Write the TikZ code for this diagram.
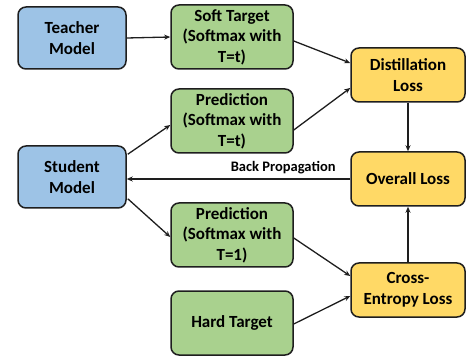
\documentclass[tikz,border=0pt]{standalone}
\usepackage{fontspec}
\setmainfont{Carlito}
\usetikzlibrary{arrows.meta}
\definecolor{modelblue}{HTML}{9DC3E6}
\definecolor{softgreen}{HTML}{A9D18E}
\definecolor{lossyellow}{HTML}{FFD966}
\definecolor{edge}{HTML}{1E1E1E}
\tikzset{
  box/.style={draw=edge, line width=1.5pt, rounded corners=8pt, align=center,
    font=\fontsize{17}{20.5}\selectfont\bfseries, inner sep=0pt},
  modelbox/.style={box, fill=modelblue, minimum width=108pt, minimum height=62pt},
  predbox/.style={box, fill=softgreen, minimum width=122pt, minimum height=64pt},
  lossbox/.style={box, fill=lossyellow, minimum width=114pt, minimum height=54pt},
  link/.style={draw=edge, line width=1.3pt, -{Stealth[length=6pt,width=5pt]}}
}
\begin{document}
\begin{tikzpicture}[x=1pt, y=-1pt]
  \useasboundingbox (0,0) rectangle (466,358);
  % models
  \node[modelbox] (teacher) at (72,38) {Teacher\\Model};
  \node[modelbox] (student) at (72,177) {Student\\Model};
  % softmax outputs and targets
  \node[predbox] (soft) at (232,37) {Soft Target\\(Softmax with\\T=t)};
  \node[predbox] (predt) at (232,121) {Prediction\\(Softmax with\\T=t)};
  \node[predbox] (pred1) at (232,235) {Prediction\\(Softmax with\\T=1)};
  \node[predbox] (hard) at (232,323) {Hard Target};
  % losses
  \node[lossbox] (distil) at (408,75) {Distillation\\Loss};
  \node[lossbox] (overall) at (408,179) {Overall Loss};
  \node[lossbox] (cross) at (408,290) {Cross-\\Entropy Loss};
  % connectors
  \draw[link] (teacher.east) -- (soft.west);
  \draw[link] (soft.east |- 0,41) -- (distil.west |- 0,63);
  \draw[link] (predt.east |- 0,130) -- (distil.west |- 0,88);
  \draw[link] (distil.south) -- (overall.north);
  \draw[link] (overall.west) -- (student.east |- overall.west)
    node[pos=0.3, above=1pt, font=\fontsize{14.5}{17}\selectfont\bfseries] {Back Propagation};
  \draw[link] (student.north east) ++(1,9) coordinate (s1) -- (predt.west |- 0,125);
  \draw[link] (student.south east) ++(1,-10) coordinate (s2) -- (pred1.west |- 0,237);
  \draw[link] (pred1.east |- 0,238) -- (cross.west |- 0,276);
  \draw[link] (hard.east |- 0,324) -- (cross.west |- 0,296);
  \draw[link] (cross.north) -- (overall.south);
\end{tikzpicture}
\end{document}
